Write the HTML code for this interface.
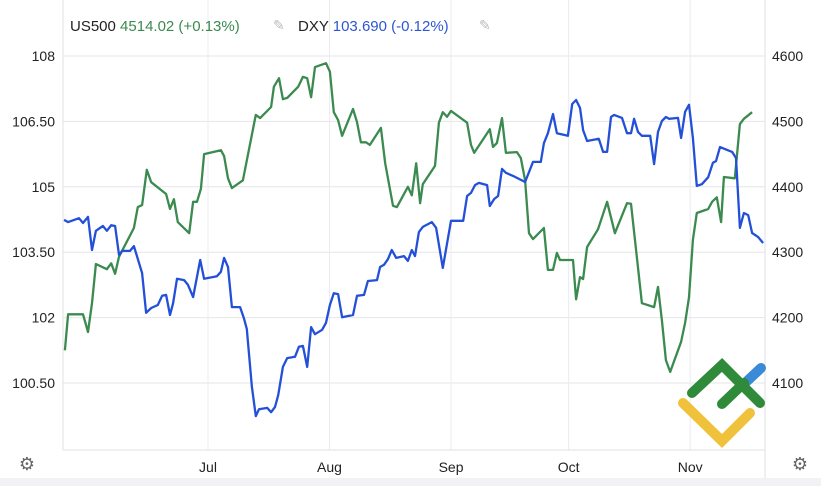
<!DOCTYPE html>
<html><head><meta charset="utf-8">
<style>
html,body{margin:0;padding:0;background:#fff;width:821px;height:486px;overflow:hidden}
svg{display:block;font-family:"Liberation Sans",Arial,sans-serif}
</style></head>
<body>
<svg id="chart" width="821" height="486" viewBox="0 0 821 486" xmlns="http://www.w3.org/2000/svg">
  <rect x="0" y="478" width="821" height="8" fill="#f2f2f4"/>
  <g id="grid"></g>
  <g id="axes"></g>
  <g id="series"></g>
  <g font-size="15">
    <text x="70" y="31"><tspan fill="#222">US500 </tspan><tspan fill="#3b8a4f">4514.02 (+0.13%)</tspan></text>
    <text x="273" y="30" fill="#bbb" font-size="14">✎</text>
    <text x="298" y="31"><tspan fill="#222">DXY </tspan><tspan fill="#2d55d4">103.690 (-0.12%)</tspan></text>
    <text x="479" y="30" fill="#bbb" font-size="14">✎</text>
  </g>
  <text x="27" y="470" text-anchor="middle" font-size="18" fill="#666">⚙</text>
  <text x="800" y="470" text-anchor="middle" font-size="18" fill="#666">⚙</text>
  <g fill="none" stroke-linecap="round" stroke-width="10">
    <path d="M683,403 L722,441 L750,413" stroke="#f0c23c"/>
    <path d="M745,383 L761,368" stroke="#3a8ad8"/>
    <path d="M692,393 L722,365 L760,403 M722,404 L744,383" stroke="#2f8a3a"/>
  </g>
</svg>
<script>
const monthLabels = ["Jul","Aug","Sep","Oct","Nov"];
const monthDays = [0,31,62,92,123];
const leftTicks = [108,106.5,105,103.5,102,100.5];
const leftTickLabels = ["108","106.50","105","103.50","102","100.50"];
const rightTicks = [4600,4500,4400,4300,4200,4100];
const spxDays = [-36.5,-35.7,-31.9,-30.6,-29.6,-28.6,-25.8,-24.7,-23.7,-22.7,-18.9,-17.9,-16.8,-15.6,-14.5,-10.7,-9.7,-8.7,-7.7,-4.8,-3.8,-2.8,-1.8,-1.0,3.3,4.1,5.1,6.1,8.9,12.2,13.3,16.1,16.8,18.1,19.1,20.2,23.0,24.2,25.3,26.3,27.3,30.1,31.1,32.1,33.2,34.2,37.0,38.0,39.0,40.3,41.3,44.1,45.2,47.2,48.2,51.0,52.0,53.1,54.1,54.8,57.9,58.9,59.9,61.0,62.0,66.1,67.1,67.9,71.9,72.7,73.7,75.0,76.0,78.8,79.8,80.9,81.9,82.9,85.7,86.7,88.0,89.0,89.8,93.1,93.9,94.9,95.7,96.7,99.5,101.8,103.8,106.9,107.9,110.7,113.8,114.8,115.8,116.8,117.9,120.7,121.7,122.7,123.7,124.7,127.6,128.6,129.8,130.9,131.6,134.4,135.7,136.7,138.8];
const spxValues = [4150,4205,4205,4178,4222,4282,4274,4283,4267,4293,4337,4369,4372,4426,4407,4389,4366,4381,4346,4329,4377,4377,4397,4450,4456,4447,4413,4398,4410,4510,4505,4522,4553,4566,4534,4536,4553,4568,4566,4537,4583,4589,4576,4514,4502,4478,4519,4499,4468,4468,4464,4490,4436,4371,4369,4400,4387,4436,4375,4404,4432,4498,4514,4507,4516,4498,4464,4452,4488,4461,4467,4505,4452,4453,4444,4410,4329,4320,4337,4273,4273,4299,4288,4288,4228,4262,4259,4308,4335,4377,4329,4375,4374,4222,4216,4247,4196,4135,4117,4163,4192,4231,4319,4360,4366,4377,4384,4346,4415,4413,4496,4504,4514];
const dxyDays = [-36.7,-35.7,-32.9,-31.9,-30.6,-29.6,-28.6,-26.8,-25.8,-24.7,-23.7,-22.7,-21.9,-19.9,-18.9,-16.8,-15.8,-14.5,-12.8,-11.7,-10.7,-9.7,-8.9,-7.9,-6.1,-5.1,-3.8,-2.0,-1.0,2.3,3.3,4.1,5.1,6.1,8.2,9.2,9.9,11.2,12.2,13.0,15.1,16.1,17.1,17.9,19.1,20.2,22.2,23.2,24.2,25.3,26.3,27.3,29.1,30.1,31.1,32.1,33.2,34.2,37.0,38.0,39.8,40.8,43.1,43.9,44.9,45.9,46.9,48.0,50.0,51.0,52.0,52.8,53.8,54.8,57.1,58.2,59.9,62.0,65.1,66.1,67.1,68.1,69.1,71.2,71.9,73.0,74.0,75.0,76.0,77.8,80.9,82.9,84.9,85.7,86.7,88.0,89.0,91.8,92.9,93.9,94.9,95.7,96.7,99.7,100.8,101.8,102.8,103.6,105.6,106.9,107.9,108.7,109.7,110.7,112.8,113.8,114.8,115.8,116.8,117.6,119.9,120.7,121.7,122.7,123.7,124.7,126.0,127.6,128.8,129.6,130.6,133.7,134.7,135.7,136.7,137.8,138.8,140.3,141.6];
const dxyValues = [104.24,104.19,104.28,104.17,104.31,103.55,103.99,104.10,103.99,104.12,104.10,103.44,103.53,103.53,103.64,103.02,102.11,102.22,102.29,102.50,102.52,102.06,102.33,102.89,102.86,102.75,102.47,103.32,102.89,102.95,103.05,103.37,103.16,102.24,102.24,101.97,101.74,100.41,99.74,99.90,99.93,99.83,99.95,100.22,100.87,101.07,101.10,101.33,101.35,100.87,101.78,101.62,101.72,101.88,102.29,102.56,102.54,102.01,102.06,102.50,102.52,102.84,102.86,103.16,103.21,103.34,103.55,103.37,103.41,103.30,103.55,103.41,103.96,104.08,104.19,104.06,103.14,104.22,104.22,104.79,104.86,105.04,105.09,105.04,104.56,104.72,104.79,105.41,105.32,105.25,105.11,105.57,105.57,106.00,106.23,106.67,106.23,106.17,106.90,106.99,106.81,106.30,106.05,106.10,105.80,105.80,106.60,106.65,106.58,106.23,106.23,106.56,106.26,106.17,106.17,105.52,106.26,106.51,106.60,106.56,106.58,106.12,106.72,106.88,106.12,105.02,105.06,105.22,105.55,105.59,105.91,105.80,105.66,104.06,104.40,104.35,103.94,103.85,103.71];

const NS="http://www.w3.org/2000/svg";
const PL=63, PR=765, PB=450;
const xScale = d => 208 + d*3.92;
const yLeft = v => 56 + (108 - v)*43.6;
const yRight = v => 56 + (4600 - v)*0.654;
function mk(tag, attrs, parent){const e=document.createElementNS(NS,tag);for(const k in attrs)e.setAttribute(k,attrs[k]);parent.appendChild(e);return e;}
const grid=document.getElementById('grid'), axes=document.getElementById('axes'), series=document.getElementById('series');

leftTicks.forEach((v,i)=>{
  const y=yLeft(v);
  const g=mk('line',{x1:PL,x2:PR,y1:y,y2:y,stroke:'#e6e6ea','stroke-width':1},grid);
  
  
  const t=mk('text',{x:55,y:y+5,'text-anchor':'end','font-size':14,fill:'#222'},axes);
  t.textContent=leftTickLabels[i];
  
  
});
rightTicks.forEach(v=>{
  const y=yRight(v);
  const t=mk('text',{x:772,y:y+5,'font-size':14,fill:'#222'},axes);
  t.textContent=String(v);
  
  
});
monthLabels.forEach((m,i)=>{
  const x=xScale(monthDays[i]);
  const g=mk('line',{x1:x,x2:x,y1:0,y2:PB,stroke:'#ececf0','stroke-width':1},grid);
  
  
  const t=mk('text',{x:x,y:472,'text-anchor':'middle','font-size':14,fill:'#222'},axes);
  t.textContent=m;
  
  
});
[[PL,0,PL,PB],[PR,0,PR,478],[PL,PB,PR,PB]].forEach(c=>{
  const l=mk('line',{x1:c[0],y1:c[1],x2:c[2],y2:c[3],stroke:'#e0e0e4','stroke-width':1},axes);
  
  
});
const sp=mk('polyline',{points:spxDays.map((d,i)=>xScale(d).toFixed(1)+','+yRight(spxValues[i]).toFixed(1)).join(' '),fill:'none',stroke:'#3b8a4f','stroke-width':2.3,'stroke-linejoin':'round'},series);


const dx=mk('polyline',{points:dxyDays.map((d,i)=>xScale(d).toFixed(1)+','+yLeft(dxyValues[i]).toFixed(1)).join(' '),fill:'none',stroke:'#2450d8','stroke-width':2.3,'stroke-linejoin':'round'},series);


</script>
</body></html>
